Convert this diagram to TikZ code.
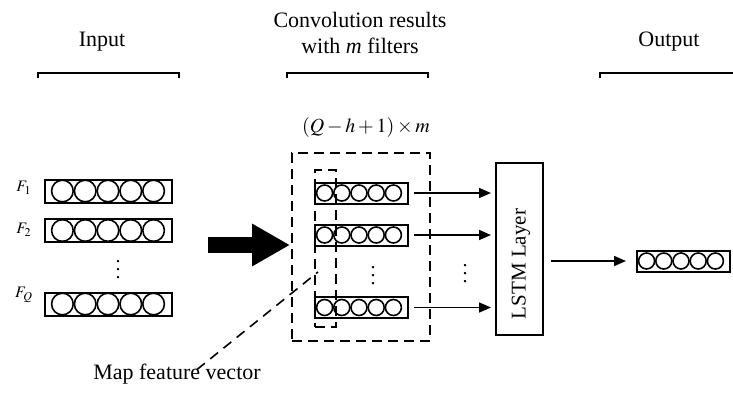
\documentclass[tikz,border=0pt]{standalone}
\usepackage{mathptmx}
\usepackage{fontspec}
\setmainfont{Liberation Serif}
\usetikzlibrary{arrows.meta}

\begin{document}
\begin{tikzpicture}[x=0.5pt, y=-0.5pt,
	txt/.style={font=\fontsize{11}{13}\selectfont, align=center, inner sep=0pt},
	flabel/.style={font=\fontsize{8}{9}\selectfont, inner sep=0pt},
	inbox/.style={draw, line width=1pt, minimum width=63.5pt, minimum height=11.5pt, inner sep=0pt},
	cvbox/.style={draw, line width=1pt, minimum width=46.5pt, minimum height=10.5pt, inner sep=0pt},
	unit/.style={line width=0.8pt},
	bracket/.style={line width=1pt},
	dashbox/.style={draw, line width=0.9pt, dash pattern=on 5pt off 3pt, inner sep=0pt},
	conn/.style={line width=0.8pt, -{Triangle[length=6pt,width=5pt]}}
	]
	\useasboundingbox (0,0) rectangle (733,396);

	\node[txt] (hin) at (102,42) {Input};
	\node[txt] (hconv) at (360,33) {Convolution results\\with \textit{m} filters};
	\node[txt] (hout) at (669,42) {Output};
	\draw[bracket] (38,78) |- (179,73) -- (179,78);
	\draw[bracket] (287,78) |- (428,73) -- (428,78);
	\draw[bracket] (600,78) |- (735,73);

	\foreach \n/\y/\ly in {1/191/188, 2/230.5/230, Q/304/295} {
		\node[inbox] (in\n) at (108.5,\y) {};
		\node[flabel] (f\n) at (24,\ly) {$F_{\n}$};
		\foreach \i in {0,...,4}
			\draw[unit] ([xshift=9.2pt+\i*11.4pt]in\n.west) circle (5.4pt);
	}
	\node[inner sep=0pt] (indots) at (118,264) {$\vdots$};

	\coordinate (arrs) at (208,245);
	\coordinate (arre) at (290,245);
	\draw[line width=8pt, -{Triangle[length=19pt,width=20pt]}] (arrs) -- (arre);

	\node[font=\fontsize{10}{12}\selectfont, inner sep=0pt] (dims) at (366,127) {$(Q-h+1)\times m$};
	\node[dashbox, minimum width=69pt, minimum height=94pt] (convarea) at (361,247) {};
	\node[dashbox, minimum width=10.5pt, minimum height=78.5pt] (mapvec) at (325.5,248.5) {};

	\node[draw, line width=1pt, minimum width=23.5pt, minimum height=86pt] (lstm) at (519.5,249) {};
	\node[txt, rotate=90, font=\fontsize{10.5}{12}\selectfont] (lstmtxt) at (521,264) {LSTM Layer};

	\foreach \n/\y in {1/193, 2/235, 3/307.5} {
		\node[cvbox] (cv\n) at (361.5,\y) {};
		\foreach \i in {0,...,4}
			\draw[unit] ([xshift=5.3pt+\i*8.6pt]cv\n.east -| cv\n.west) circle (4pt);
		\draw[conn, shorten <=2.5pt, shorten >=2pt] (cv\n.east) -- (cv\n.east -| lstm.west);
	}
	\node[inner sep=0pt] (cvdots) at (373,270) {$\vdots$};
	\node[inner sep=0pt] (ardots) at (465,268) {$\vdots$};

	\node[cvbox] (out) at (683.5,261) {};
	\foreach \i in {0,...,4}
		\draw[unit] ([xshift=5.3pt+\i*8.6pt]out.west) circle (4pt);
	\draw[conn, shorten <=3.5pt, shorten >=5pt] (lstm.east |- out.west) -- (out.west);

	\node[txt] (mfv) at (177,374) {Map feature vector};
	\coordinate (mfvtip) at (318,272);
	\draw[line width=0.8pt, dash pattern=on 5pt off 3.5pt] ([xshift=10pt,yshift=-3pt]mfv.north) -- (mfvtip);
\end{tikzpicture}
\end{document}
